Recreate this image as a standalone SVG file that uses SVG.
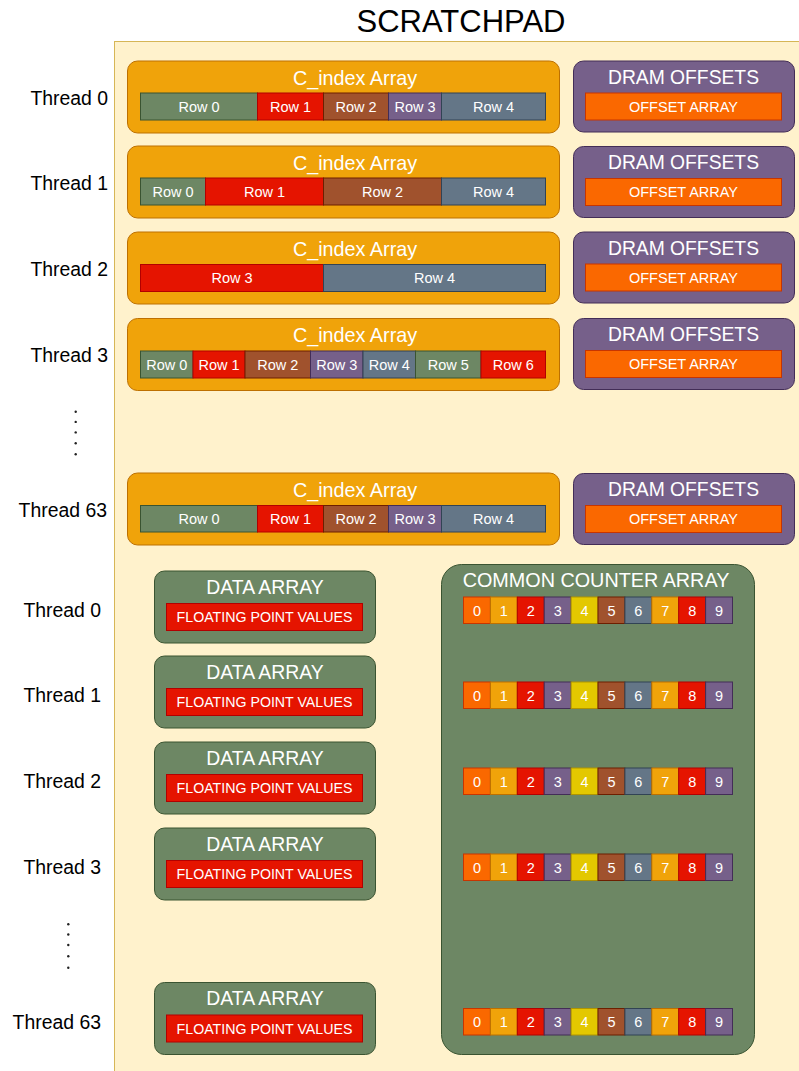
<svg xmlns="http://www.w3.org/2000/svg" width="799" height="1071" viewBox="0 0 799 1071">
<style>
text{font-family:"Liberation Sans",Arial,Helvetica,sans-serif}
.lbl{font-size:19.4px;fill:#000;text-anchor:end}
.ttl{font-size:19.8px;fill:#fff;text-anchor:middle}
.sm{font-size:14.5px;fill:#fff;text-anchor:middle}
.fp{font-size:14.2px;fill:#fff;text-anchor:middle}
.ci{fill:#f0a30a;stroke:#bd7000;stroke-width:1}
.dr{fill:#76608a;stroke:#432d57;stroke-width:1}
.da{fill:#6d8764;stroke:#3a5431;stroke-width:1}
.g{fill:#6d8764;stroke:#3a5431}
.r{fill:#e51400;stroke:#b20000}
.b{fill:#a0522d;stroke:#6d1f00}
.p{fill:#76608a;stroke:#432d57}
.s{fill:#647687;stroke:#314354}
.o{fill:#fa6800;stroke:#c73500}
.a{fill:#f0a30a;stroke:#bd7000}
.y{fill:#e3c800;stroke:#b09500}
.dot{fill:#222}
</style>
<defs>
<g id="counter">
<rect class="o" x="463.5" y="0" width="26.9" height="26.5"/><text class="sm" x="477" y="18.5">0</text>
<rect class="a" x="490.4" y="0" width="26.9" height="26.5"/><text class="sm" x="503.9" y="18.5">1</text>
<rect class="r" x="517.3" y="0" width="26.9" height="26.5"/><text class="sm" x="530.8" y="18.5">2</text>
<rect class="p" x="544.2" y="0" width="26.9" height="26.5"/><text class="sm" x="557.7" y="18.5">3</text>
<rect class="y" x="571.1" y="0" width="26.9" height="26.5"/><text class="sm" x="584.6" y="18.5">4</text>
<rect class="b" x="598" y="0" width="26.9" height="26.5"/><text class="sm" x="611.5" y="18.5">5</text>
<rect class="s" x="624.9" y="0" width="26.9" height="26.5"/><text class="sm" x="638.4" y="18.5">6</text>
<rect class="a" x="651.8" y="0" width="26.9" height="26.5"/><text class="sm" x="665.3" y="18.5">7</text>
<rect class="r" x="678.7" y="0" width="26.9" height="26.5"/><text class="sm" x="692.2" y="18.5">8</text>
<rect class="p" x="705.6" y="0" width="26.9" height="26.5"/><text class="sm" x="719.1" y="18.5">9</text>
</g>
<g id="dram">
<rect class="dr" x="573.5" y="0" width="221" height="71" rx="10"/>
<text class="ttl" x="683.5" y="22.8" style="font-size:19.3px">DRAM OFFSETS</text>
<rect class="o" x="585.5" y="32" width="196" height="27"/>
<text class="sm" x="683.5" y="50.8">OFFSET ARRAY</text>
</g>
<g id="data">
<rect class="da" x="154.5" y="0" width="221" height="72" rx="10"/>
<text class="ttl" x="265" y="22.8" style="font-size:19.4px">DATA ARRAY</text>
<rect class="r" x="166.5" y="32.5" width="196" height="27"/>
<text class="fp" x="264.5" y="51">FLOATING POINT VALUES</text>
</g>
</defs>

<rect id="scratchpad" x="114.5" y="41.5" width="720" height="1060" fill="#fff2cc" stroke="#d6b656"/>
<text x="461" y="32" style="font-size:31px;text-anchor:middle;fill:#000">SCRATCHPAD</text>

<g id="labels">
<text class="lbl" x="108" y="105">Thread 0</text>
<text class="lbl" x="108" y="190">Thread 1</text>
<text class="lbl" x="108" y="276">Thread 2</text>
<text class="lbl" x="108" y="362">Thread 3</text>
<text class="lbl" x="107" y="517">Thread 63</text>
<text class="lbl" x="101" y="617">Thread 0</text>
<text class="lbl" x="101" y="702">Thread 1</text>
<text class="lbl" x="101" y="788">Thread 2</text>
<text class="lbl" x="101" y="874">Thread 3</text>
<text class="lbl" x="101" y="1029">Thread 63</text>
<circle class="dot" cx="75.7" cy="411.7" r="1.2"/>
<circle class="dot" cx="75.7" cy="421.9" r="1.2"/>
<circle class="dot" cx="75.7" cy="432.4" r="1.2"/>
<circle class="dot" cx="75.7" cy="443.3" r="1.2"/>
<circle class="dot" cx="75.7" cy="454.3" r="1.2"/>
<circle class="dot" cx="68.3" cy="924.3" r="1.2"/>
<circle class="dot" cx="68.3" cy="934.5" r="1.2"/>
<circle class="dot" cx="68.3" cy="945" r="1.2"/>
<circle class="dot" cx="68.3" cy="956.3" r="1.2"/>
<circle class="dot" cx="68.3" cy="967.7" r="1.2"/>
</g>

<g id="cindex0" transform="translate(0,61)">
<rect class="ci" x="127.5" y="0" width="432" height="72" rx="10"/>
<text class="ttl" x="355" y="23.5">C_index Array</text>
<rect class="g" x="140.5" y="32" width="117" height="27"/><text class="sm" x="199" y="50.7">Row 0</text>
<rect class="r" x="257.5" y="32" width="66" height="27"/><text class="sm" x="290.5" y="50.7">Row 1</text>
<rect class="b" x="323.5" y="32" width="65" height="27"/><text class="sm" x="356" y="50.7">Row 2</text>
<rect class="p" x="388.5" y="32" width="53" height="27"/><text class="sm" x="415" y="50.7">Row 3</text>
<rect class="s" x="441.5" y="32" width="104" height="27"/><text class="sm" x="493.5" y="50.7">Row 4</text>
</g>
<g id="cindex1" transform="translate(0,146)">
<rect class="ci" x="127.5" y="0" width="432" height="72" rx="10"/>
<text class="ttl" x="355" y="23.5">C_index Array</text>
<rect class="g" x="140.5" y="32" width="65" height="27"/><text class="sm" x="173" y="50.7">Row 0</text>
<rect class="r" x="205.5" y="32" width="118" height="27"/><text class="sm" x="264.5" y="50.7">Row 1</text>
<rect class="b" x="323.5" y="32" width="118" height="27"/><text class="sm" x="382.5" y="50.7">Row 2</text>
<rect class="s" x="441.5" y="32" width="104" height="27"/><text class="sm" x="493.5" y="50.7">Row 4</text>
</g>
<g id="cindex2" transform="translate(0,232)">
<rect class="ci" x="127.5" y="0" width="432" height="72" rx="10"/>
<text class="ttl" x="355" y="23.5">C_index Array</text>
<rect class="r" x="140.5" y="32.5" width="183" height="27"/><text class="sm" x="232" y="51.2">Row 3</text>
<rect class="s" x="323.5" y="32.5" width="222" height="27"/><text class="sm" x="434.5" y="51.2">Row 4</text>
</g>
<g id="cindex3" transform="translate(0,318.5)">
<rect class="ci" x="127.5" y="0" width="432" height="72" rx="10"/>
<text class="ttl" x="355" y="23.5">C_index Array</text>
<rect class="g" x="140.5" y="32.5" width="52.5" height="27"/><text class="sm" x="166.8" y="51.2">Row 0</text>
<rect class="r" x="193" y="32.5" width="52" height="27"/><text class="sm" x="219" y="51.2">Row 1</text>
<rect class="b" x="245" y="32.5" width="65.5" height="27"/><text class="sm" x="277.8" y="51.2">Row 2</text>
<rect class="p" x="310.5" y="32.5" width="52.5" height="27"/><text class="sm" x="336.8" y="51.2">Row 3</text>
<rect class="s" x="363" y="32.5" width="52.5" height="27"/><text class="sm" x="389.3" y="51.2">Row 4</text>
<rect class="g" x="415.5" y="32.5" width="65.5" height="27"/><text class="sm" x="448.3" y="51.2">Row 5</text>
<rect class="r" x="481" y="32.5" width="64.5" height="27"/><text class="sm" x="513.3" y="51.2">Row 6</text>
</g>
<g id="cindex63" transform="translate(0,473)">
<rect class="ci" x="127.5" y="0" width="432" height="72" rx="10"/>
<text class="ttl" x="355" y="23.5">C_index Array</text>
<rect class="g" x="140.5" y="32.5" width="117" height="26.5"/><text class="sm" x="199" y="51">Row 0</text>
<rect class="r" x="257.5" y="32.5" width="66" height="26.5"/><text class="sm" x="290.5" y="51">Row 1</text>
<rect class="b" x="323.5" y="32.5" width="65" height="26.5"/><text class="sm" x="356" y="51">Row 2</text>
<rect class="p" x="388.5" y="32.5" width="53" height="26.5"/><text class="sm" x="415" y="51">Row 3</text>
<rect class="s" x="441.5" y="32.5" width="104" height="26.5"/><text class="sm" x="493.5" y="51">Row 4</text>
</g>

<g id="dram0"><use href="#dram" transform="translate(0,61)"/></g>
<g id="dram1"><use href="#dram" transform="translate(0,146.5)"/></g>
<g id="dram2"><use href="#dram" transform="translate(0,232)"/></g>
<g id="dram3"><use href="#dram" transform="translate(0,318.5)"/></g>
<g id="dram63"><use href="#dram" transform="translate(0,473.5)"/></g>

<g id="data0"><use href="#data" transform="translate(0,571)"/></g>
<g id="data1"><use href="#data" transform="translate(0,656)"/></g>
<g id="data2"><use href="#data" transform="translate(0,742)"/></g>
<g id="data3"><use href="#data" transform="translate(0,828)"/></g>
<g id="data63"><use href="#data" transform="translate(0,982.5)"/></g>

<g id="common-counter">
<rect class="da" x="441.5" y="564.5" width="313" height="490" rx="20"/>
<text class="ttl" x="596" y="587">COMMON COUNTER ARRAY</text>
<use href="#counter" transform="translate(0,597)"/>
<use href="#counter" transform="translate(0,682)"/>
<use href="#counter" transform="translate(0,768)"/>
<use href="#counter" transform="translate(0,854)"/>
<use href="#counter" transform="translate(0,1008.5)"/>
</g>
<g id="connectors"/>
</svg>
